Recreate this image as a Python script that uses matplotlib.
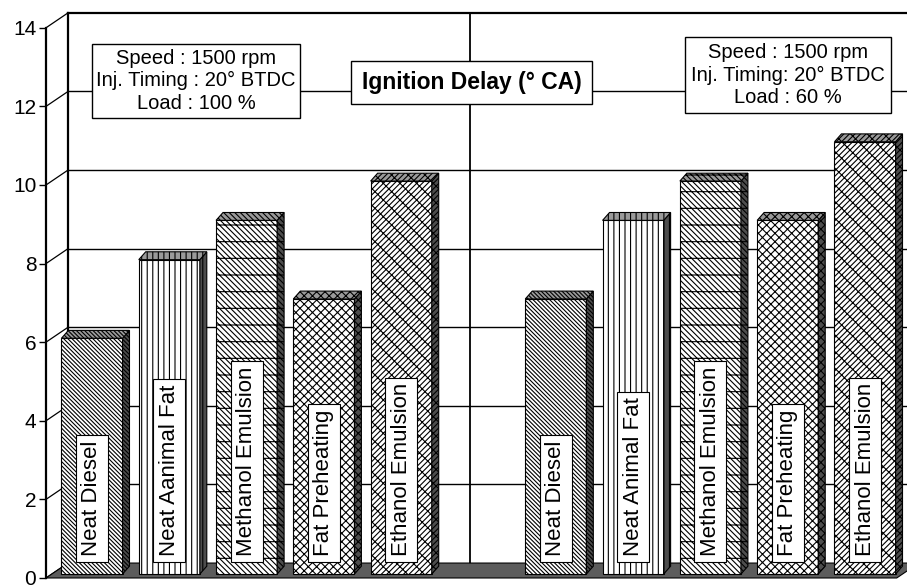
import numpy as np
import matplotlib
matplotlib.use('Agg')
import matplotlib.pyplot as plt
from matplotlib.patches import Polygon

plt.rcParams['font.family'] = ['Liberation Sans', 'DejaVu Sans']
plt.rcParams['hatch.linewidth'] = 0.8

# data
fuels_100 = ['Neat Diesel', 'Neat Aanimal Fat', 'Methanol Emulsion', 'Fat Preheating', 'Ethanol Emulsion']
fuels_60 = ['Neat Diesel', 'Neat Animal Fat', 'Methanol Emulsion', 'Fat Preheating', 'Ethanol Emulsion']
delay_100 = [6, 8, 9, 7, 10]
delay_60 = [7, 9, 10, 9, 11]
y_ticks = [0, 2, 4, 6, 8, 10, 12, 14]
box_100 = 'Speed : 1500 rpm\nInj. Timing : 20° BTDC\nLoad : 100 %'
box_60 = 'Speed : 1500 rpm\nInj. Timing: 20° BTDC\nLoad : 60 %'
title = 'Ignition Delay (° CA)'

hatches = ['\\' * 8, '|||', '\\' * 6 + '-', 'xxxx', '/' * 6 + '\\\\']

# layout (slot units on x, value units on y)
x0 = -0.595          # front y axis
DX, DY = 0.285, 0.38  # depth of the wall / floor
sdx, sdy = 0.09, 0.2  # depth of bars
base = 0.1
w = 0.79
xmax = 10.543
x_floor = 10.41
x_div = 4.89

fig = plt.figure(figsize=(9.07, 5.86), dpi=100)
ax = fig.add_axes([0, 0, 1, 1])
ax.set_xlim(-1.19, xmax)
ax.set_ylim(-0.204, 14.707)

# back wall + grid
ax.plot([x0 + DX, x0 + DX], [DY, 14 + DY], color='black', lw=1.6, zorder=1)
for v in y_ticks:
    ax.plot([x0, x0 + DX], [v, v + DY], color='black', lw=0.9, zorder=1)
    if v > 0:
        ax.plot([x0 + DX, xmax], [v + DY, v + DY], color='black',
                lw=1.6 if v == 14 else 1.0, zorder=1)
ax.plot([x_div, x_div], [DY, 14 + DY], color='black', lw=1.3, zorder=1)

# floor
ax.add_patch(Polygon([[x0, 0], [x_floor, 0], [x_floor + DX, DY], [x0 + DX, DY]],
                     closed=True, facecolor='#5c5c5c', edgecolor='black', lw=0.8, zorder=2))


def bar3d(x, v, hatch, label):
    left, right = x - w / 2, x + w / 2
    top = base + v
    ax.bar(x, v, width=w, bottom=base, facecolor='white', edgecolor='black',
           hatch=hatch, lw=0.8, zorder=3)
    ax.add_patch(Polygon([[right, base], [right + sdx, base + sdy], [right + sdx, top + sdy], [right, top]],
                         closed=True, facecolor='#4d4d4d', edgecolor='black', hatch=hatch, lw=0.8, zorder=3))
    ax.add_patch(Polygon([[left, top], [left + sdx, top + sdy], [right + sdx, top + sdy], [right, top]],
                         closed=True, facecolor='#9a9a9a', edgecolor='black', hatch=hatch, lw=0.8, zorder=3))
    ax.text(x, base + 0.45, label, rotation=90, ha='center', va='bottom', fontsize=16, zorder=4,
            bbox=dict(boxstyle='square,pad=0.25', facecolor='white', edgecolor='black', lw=0.8))


for i, (name, v) in enumerate(zip(fuels_100, delay_100)):
    bar3d(i, v, hatches[i], name)
for i, (name, v) in enumerate(zip(fuels_60, delay_60)):
    bar3d(i + 6, v, hatches[i], name)

# y axis
for s in ['top', 'right', 'bottom']:
    ax.spines[s].set_visible(False)
ax.spines['left'].set_position(('data', x0))
ax.spines['left'].set_bounds(0, 14)
ax.spines['left'].set_linewidth(1.6)
ax.set_yticks(y_ticks)
ax.set_xticks([])
ax.tick_params(axis='y', direction='out', length=5, width=1, labelsize=15, pad=2)
ax.patch.set_visible(False)

# text boxes
fig.text(0.216, 0.862, box_100, ha='center', va='center', fontsize=14.5, linespacing=1.25,
         bbox=dict(boxstyle='square,pad=0.22', facecolor='white', edgecolor='black', lw=1))
fig.text(0.520, 0.859, title, ha='center', va='center', fontsize=16.5, fontweight='bold',
         bbox=dict(boxstyle='square,pad=0.45', facecolor='white', edgecolor='black', lw=1))
fig.text(0.869, 0.872, box_60, ha='center', va='center', fontsize=14.5, linespacing=1.25,
         bbox=dict(boxstyle='square,pad=0.3', facecolor='white', edgecolor='black', lw=1))

fig.savefig('out.png', dpi=100)
